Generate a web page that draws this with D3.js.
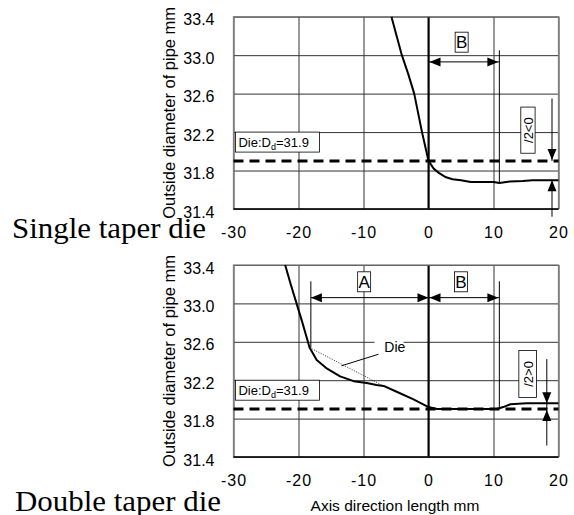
<!DOCTYPE html>
<html>
<head>
<meta charset="utf-8">
<script src="https://cdn.jsdelivr.net/npm/d3@7"></script>
<style>
  body { margin: 0; background: #fff; }
  svg { display: block; }
  .tick text { font-family: "Liberation Sans", Arial, sans-serif; fill: #000; }
  .domain { display: none; }
</style>
</head>
<body>
<svg id="chart" width="574" height="515"></svg>
<script>
// ---- data ----
var xTicks = [-30, -20, -10, 0, 10, 20];
var yTicks = [31.4, 31.8, 32.2, 32.6, 33.0, 33.4];
var dieDiameter = 31.9;

// single taper die: measured outside diameter along the axis
var singleX = [-5.7, -4.9, -4.1, -3.1, -2.2, -1.6, -1.0, -0.5, 0, 0.8, 1.7, 2.7, 3.7, 5.0, 6.5, 8, 10, 10.9, 12.5, 14.5, 16, 20];
var singleY = [33.4, 33.2, 33.0, 32.8, 32.6, 32.4, 32.2, 32.05, 31.9, 31.82, 31.77, 31.73, 31.71, 31.70, 31.68, 31.68, 31.68, 31.67, 31.685, 31.69, 31.70, 31.70];

// double taper die
var doubleX = [-22.05, -21.2, -20.3, -19.4, -18.3, -17.2, -15.6, -13.6, -11.5, -9.5, -8, -6.9, -4.9, -2.3, 0, 1.3, 10.5, 11.5, 12.6, 15.1, 20];
var doubleY = [33.4, 33.2, 33.0, 32.8, 32.54, 32.41, 32.32, 32.24, 32.19, 32.17, 32.15, 32.14, 32.08, 32.0, 31.92, 31.9, 31.9, 31.92, 31.95, 31.96, 31.96];

// die surface (dotted) of the double taper die
var dieSurfX = [-18.3, -7.2];
var dieSurfY = [32.54, 32.15];

var svg = d3.select('#chart');
var font = '"Liberation Sans", Arial, sans-serif';
var serif = '"Liberation Serif", "Times New Roman", serif';

var x = d3.scaleLinear().domain([-30, 20]).range([233.5, 558.5]);

function zip(xs, ys){ return xs.map(function(d, i){ return [d, ys[i]]; }); }

// filled arrow head, tip at (tx,ty), pointing in direction (dx,dy)
function arrowHead(g, tx, ty, dx, dy){
    var len = 11, half = 4.5;
    var bx = tx - dx*len, by = ty - dy*len;
    var px = -dy*half, py = dx*half;
    g.append('path')
        .attr('d', 'M' + tx + ',' + ty + 'L' + (bx+px) + ',' + (by+py) + 'L' + (bx-px) + ',' + (by-py) + 'Z')
        .attr('fill', '#000');
}

function boxedLetter(g, cx, cy, txt){
    g.append('rect').attr('x', cx - 6.5).attr('y', cy - 10).attr('width', 13).attr('height', 20)
        .attr('fill', '#fff').attr('stroke', '#000').attr('stroke-width', 0.8);
    g.append('text').attr('x', cx).attr('y', cy + 6).attr('text-anchor', 'middle')
        .attr('font-family', font).attr('font-size', 17).text(txt);
}

function panel(opt){
    var y = d3.scaleLinear().domain([31.4, 33.4]).range([opt.bottom, opt.top]);
    var g = svg.append('g');
    var w = x(20) - x(-30), h = opt.bottom - opt.top;

    // grid
    g.append('g').attr('transform', 'translate(0,' + opt.bottom + ')')
        .call(d3.axisBottom(x).tickValues(xTicks).tickSize(-h).tickFormat(''))
        .selectAll('line').attr('stroke', '#333').attr('stroke-width', 1);
    g.append('g').attr('transform', 'translate(' + x(-30) + ',0)')
        .call(d3.axisLeft(y).tickValues(yTicks).tickSize(-w).tickFormat(''))
        .selectAll('line').attr('stroke', '#333').attr('stroke-width', 1);
    g.append('line').attr('x1', x(0)).attr('x2', x(0)).attr('y1', opt.top).attr('y2', opt.bottom)
        .attr('stroke', '#000').attr('stroke-width', 2);
    g.append('rect').attr('x', x(-30)).attr('y', opt.top).attr('width', w).attr('height', h)
        .attr('fill', 'none').attr('stroke', '#808080').attr('stroke-width', 1.3);
    g.append('line').attr('x1', x(-30)).attr('x2', x(20)).attr('y1', opt.bottom).attr('y2', opt.bottom)
        .attr('stroke', '#000').attr('stroke-width', 1.3);

    // tick labels
    var xa = g.append('g').attr('transform', 'translate(0,' + opt.bottom + ')')
        .call(d3.axisBottom(x).tickValues(xTicks).tickSize(0).tickPadding(18)
            .tickFormat(function(d){ return String(d); }));
    xa.selectAll('text').attr('font-size', 16).attr('letter-spacing', 1);
    var ya = g.append('g').attr('transform', 'translate(' + x(-30) + ',0)')
        .call(d3.axisLeft(y).tickValues(yTicks).tickSize(0).tickPadding(19).tickFormat(d3.format('.1f')));
    ya.selectAll('text').attr('font-size', 16).attr('dy', '0.5em');

    // y title
    g.append('text')
        .attr('transform', 'translate(175,' + (opt.top + h/2) + ') rotate(-90)')
        .attr('text-anchor', 'middle').attr('font-family', font).attr('font-size', 16.5)
        .text('Outside diameter of pipe mm');

    // die diameter
    g.append('line').attr('x1', x(-30)).attr('x2', x(20)).attr('y1', y(dieDiameter)).attr('y2', y(dieDiameter))
        .attr('stroke', '#000').attr('stroke-width', 3).attr('stroke-dasharray', '10,6');
    var bx = x(-29.7), by = y(32.2);
    g.append('rect').attr('x', bx).attr('y', by).attr('width', 84).attr('height', 20)
        .attr('fill', '#fff').attr('stroke', '#000').attr('stroke-width', 0.8);
    var t = g.append('text').attr('x', bx + 3).attr('y', by + 15)
        .attr('font-family', font).attr('font-size', 13);
    t.append('tspan').text('Die:D');
    t.append('tspan').attr('font-size', 9).attr('dy', 3).text('d');
    t.append('tspan').attr('dy', -3).text('=31.9');

    if (opt.dieSurface) {
        g.append('path').datum(opt.dieSurface)
            .attr('d', d3.line().x(function(d){ return x(d[0]); }).y(function(d){ return y(d[1]); }))
            .attr('fill', 'none').attr('stroke', '#000').attr('stroke-width', 0.8).attr('stroke-dasharray', '1,1.5');
        g.append('rect').attr('x', x(-8.3)).attr('y', y(32.6) - 4).attr('width', 29).attr('height', 17).attr('fill', '#fff');
        g.append('text').attr('x', x(-6.8)).attr('y', y(32.6) + 10)
            .attr('font-family', font).attr('font-size', 14).text('Die');
        g.append('line').attr('x1', x(-7.7)).attr('y1', y(32.47)).attr('x2', x(-13.4)).attr('y2', y(32.35))
            .attr('stroke', '#000').attr('stroke-width', 1);
    }

    // measured curve
    g.append('path').datum(opt.curve)
        .attr('d', d3.line().x(function(d){ return x(d[0]); }).y(function(d){ return y(d[1]); }))
        .attr('fill', 'none').attr('stroke', '#000').attr('stroke-width', 2).attr('stroke-linejoin', 'round');

    // region A
    if (opt.regionA) {
        var a = opt.regionA;
        g.append('line').attr('x1', x(a.x0)).attr('x2', x(a.x0)).attr('y1', y(33.23)).attr('y2', y(a.y0))
            .attr('stroke', '#000').attr('stroke-width', 1);
        g.append('line').attr('x1', x(a.x0)).attr('x2', x(0)).attr('y1', y(a.ay)).attr('y2', y(a.ay))
            .attr('stroke', '#000').attr('stroke-width', 1);
        arrowHead(g, x(a.x0), y(a.ay), -1, 0);
        arrowHead(g, x(0), y(a.ay), 1, 0);
        boxedLetter(g, x(-9.9), y(33.225), 'A');
    }

    // region B
    var b = opt.regionB;
    g.append('line').attr('x1', x(b.x1)).attr('x2', x(b.x1)).attr('y1', y(b.top)).attr('y2', y(b.y1))
        .attr('stroke', '#000').attr('stroke-width', 1);
    g.append('line').attr('x1', x(0)).attr('x2', x(b.x1)).attr('y1', y(b.ay)).attr('y2', y(b.ay))
        .attr('stroke', '#000').attr('stroke-width', 1);
    arrowHead(g, x(0) + 1, y(b.ay), -1, 0);
    arrowHead(g, x(b.x1) - 1, y(b.ay), 1, 0);
    boxedLetter(g, x(b.lx), y(b.ly), 'B');

    // half diameter difference
    var d = opt.delta;
    g.append('line').attr('x1', x(d.x)).attr('x2', x(d.x)).attr('y1', y(d.top)).attr('y2', y(dieDiameter))
        .attr('stroke', '#000').attr('stroke-width', 1);
    arrowHead(g, x(d.x), y(d.arrowTop), 0, 1);
    g.append('line').attr('x1', x(d.x)).attr('x2', x(d.x)).attr('y1', y(d.arrowBot)).attr('y2', y(d.bottom))
        .attr('stroke', '#000').attr('stroke-width', 1);
    arrowHead(g, x(d.x), y(d.arrowBot), 0, -1);
    var rx0 = x(d.bx0), rx1 = x(d.bx1), ry0 = y(d.by0), ry1 = y(d.by1);
    g.append('rect').attr('x', rx0).attr('y', ry0).attr('width', rx1 - rx0).attr('height', ry1 - ry0)
        .attr('fill', '#fff').attr('stroke', '#000').attr('stroke-width', 0.8);
    g.append('text')
        .attr('transform', 'translate(' + ((rx0 + rx1)/2 + 5) + ',' + ((ry0 + ry1)/2) + ') rotate(-90)')
        .attr('text-anchor', 'middle').attr('font-family', font).attr('font-size', 13).text(d.label);

    g.append('text').attr('x', opt.titleX).attr('y', opt.titleY)
        .attr('font-family', serif).attr('font-size', 29)
        .attr('textLength', opt.titleW).attr('lengthAdjust', 'spacingAndGlyphs').text(opt.title);
}

panel({
    top: 16.7, bottom: 209,
    curve: zip(singleX, singleY),
    regionB: {x1: 10.9, top: 33.05, y1: 31.68, ay: 32.93, lx: 5.1, ly: 33.135},
    delta: {x: 19.0, top: 32.55, arrowTop: 31.91, arrowBot: 31.70, bottom: 31.32,
            bx0: 14.2, bx1: 16.4, by0: 32.46, by1: 31.98, label: '/2<0'},
    title: 'Single taper die', titleX: 12, titleY: 238, titleW: 194
});

panel({
    top: 265, bottom: 457,
    curve: zip(doubleX, doubleY),
    dieSurface: zip(dieSurfX, dieSurfY),
    regionA: {x0: -18.1, y0: 32.54, ay: 33.06},
    regionB: {x1: 10.9, top: 33.23, y1: 31.91, ay: 33.06, lx: 5.0, ly: 33.225},
    delta: {x: 18.2, top: 32.42, arrowTop: 31.96, arrowBot: 31.89, bottom: 31.52,
            bx0: 13.9, bx1: 16.6, by0: 32.51, by1: 32.02, label: '/2>0'},
    title: 'Double taper die', titleX: 15, titleY: 511, titleW: 206
});

svg.append('text').attr('x', 395).attr('y', 511).attr('text-anchor', 'middle')
    .attr('font-family', font).attr('font-size', 15.5).text('Axis direction length mm');
</script>
</body>
</html>
